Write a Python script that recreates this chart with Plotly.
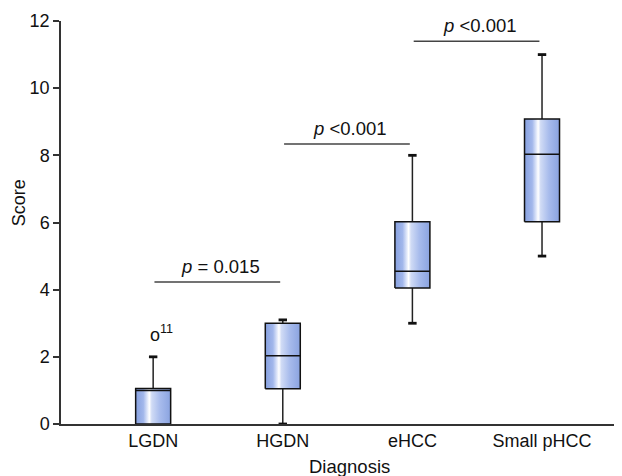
import plotly.graph_objects as go

categories = ["LGDN", "HGDN", "eHCC", "Small pHCC"]
q1 = [0.0, 1.05, 4.05, 6.02]
median = [1.0, 2.03, 4.55, 8.03]
q3 = [1.06, 3.0, 6.02, 9.08]
whisker_lo = [0.0, 0.0, 3.0, 5.0]
whisker_hi = [2.0, 3.1, 8.0, 11.0]
outlier_cat = [0]
outlier_val = [2.7]
outlier_label = ["11"]
brackets = [(0, 1, 4.23, "<i>p</i> = 0.015"),
            (1, 2, 8.34, "<i>p</i> <0.001"),
            (2, 3, 11.4, "<i>p</i> <0.001")]
x_title = "Diagnosis"
y_title = "Score"

FONT = "Liberation Sans, Arial, sans-serif"
BOXW = 0.27
CAPW = 0.065
grad = [[0.0, "#86a0df"], [0.22, "#a2b7eb"], [0.34, "#e2e9fa"], [0.39, "#ffffff"],
        [0.46, "#d0dbf5"], [0.7, "#a7bbec"], [1.0, "#8aa3e0"]]

fig = go.Figure()

# whiskers
wx, wy = [], []
cx, cy = [], []
for i in range(len(categories)):
    if whisker_hi[i] > q3[i]:
        wx += [i, i, None]; wy += [q3[i], whisker_hi[i], None]
        cx += [i - CAPW / 2, i + CAPW / 2, None]; cy += [whisker_hi[i], whisker_hi[i], None]
    if whisker_lo[i] < q1[i]:
        wx += [i, i, None]; wy += [q1[i], whisker_lo[i], None]
        cx += [i - CAPW / 2, i + CAPW / 2, None]; cy += [whisker_lo[i], whisker_lo[i], None]
fig.add_trace(go.Scatter(x=wx, y=wy, mode="lines", line=dict(color="#222", width=1.5),
                         hoverinfo="skip", showlegend=False, cliponaxis=False))
fig.add_trace(go.Scatter(x=cx, y=cy, mode="lines", line=dict(color="#111", width=2.8),
                         hoverinfo="skip", showlegend=False, cliponaxis=False))

# boxes
for i, c in enumerate(categories):
    x0, x1 = i - BOXW / 2, i + BOXW / 2
    fig.add_trace(go.Scatter(
        x=[x0, x1, x1, x0, x0], y=[q1[i], q1[i], q3[i], q3[i], q1[i]],
        mode="lines", fill="toself",
        fillgradient=dict(type="horizontal", colorscale=grad),
        line=dict(color="#111", width=1.5), name=c, showlegend=False))
    fig.add_trace(go.Scatter(x=[x0, x1], y=[median[i], median[i]], mode="lines",
                             line=dict(color="#111", width=1.5), showlegend=False,
                             hoverinfo="skip"))

annotations = []
for (a, b, yv, lab) in brackets:
    fig.add_trace(go.Scatter(x=[a + 0.01, b - 0.02], y=[yv, yv], mode="lines",
                             line=dict(color="#444", width=1.5), showlegend=False,
                             hoverinfo="skip"))
    annotations.append(dict(x=(a + b) / 2 + 0.02, y=yv, xref="x", yref="y", text=lab,
                            showarrow=False, yanchor="bottom", yshift=3,
                            font=dict(family=FONT, size=18.5, color="#111")))

for ci, v, lab in zip(outlier_cat, outlier_val, outlier_label):
    annotations.append(dict(x=ci, y=v, xref="x", yref="y", text="o<sup>" + lab + "</sup>",
                            showarrow=False, xanchor="left", xshift=-5.5, yanchor="middle",
                            font=dict(family=FONT, size=18, color="#111")))

# axis titles (placed like the reference, off-centre)
annotations.append(dict(x=0.0125, y=0, xref="paper", yref="paper", text=x_title,
                        showarrow=False, xanchor="center", yanchor="middle", yshift=-42,
                        font=dict(family=FONT, size=18.5, color="#111")))
annotations.append(dict(x=0, y=0.548, xref="paper", yref="paper", text=y_title,
                        showarrow=False, textangle=-90, xanchor="center", yanchor="middle",
                        xshift=-42, font=dict(family=FONT, size=18, color="#111")))

# page body has an 8px margin; size the figure so the plot area lands where the reference has it
fig.update_layout(
    width=614, height=468,
    margin=dict(l=53, r=0, t=13, b=52, autoexpand=False),
    paper_bgcolor="white", plot_bgcolor="white",
    font=dict(family=FONT, size=18, color="#111"),
    annotations=annotations,
    showlegend=False,
)
# x_title annotation x: centre of the reference title sits ~7px right of the plot centre
fig.layout.annotations[-2].x = 0.5 + 7.5 / 561
fig.update_xaxes(range=[-0.711, 3.617], tickvals=list(range(len(categories))),
                 ticktext=categories, ticks="", showline=True, linecolor="#333",
                 linewidth=1.5, showgrid=False, zeroline=False, automargin=False)
fig.update_yaxes(range=[0, 12], dtick=2, ticks="outside", ticklen=6, tickcolor="#333",
                 tickwidth=1.5, showline=True, linecolor="#333", linewidth=1.5,
                 showgrid=False, zeroline=False, automargin=False)

fig.write_html("out.html")
